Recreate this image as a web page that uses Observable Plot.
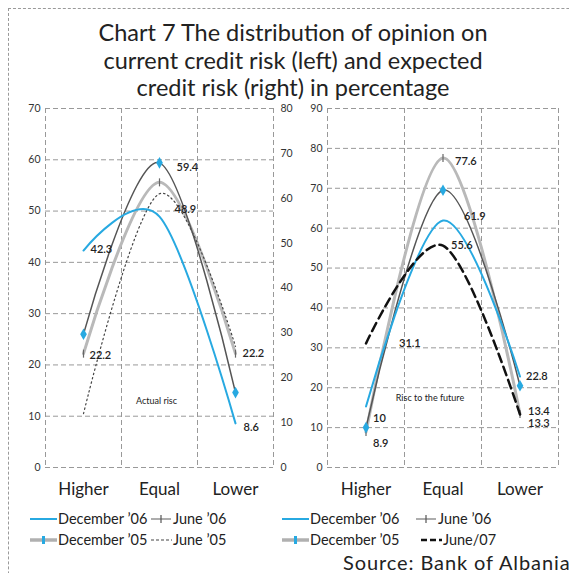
<!DOCTYPE html>
<html>
<head>
<meta charset="utf-8">
<script src="https://cdn.jsdelivr.net/npm/d3@7"></script>
<script src="https://cdn.jsdelivr.net/npm/@observablehq/plot@0.6"></script>
<style>
  html, body { margin: 0; padding: 0; background: #fff; width: 569px; height: 573px; overflow: hidden; }
  body { position: relative; font-family: Lato, "Open Sans", sans-serif; color: #222; }
  #frame { position: absolute; left: 8px; top: 8px; width: 700px; height: 700px;
           border-top: 1px dashed #9a9a9a; border-left: 1px dashed #9a9a9a; }
  #title { position: absolute; left: 0; top: 19px; width: 586px; text-align: center;
           font-size: 23.5px; line-height: 27.5px; color: #222; }
  .panel { position: absolute; top: 100px; }
  .panel svg { overflow: visible; }
  .leg { position: absolute; font-size: 14.5px; color: #222; white-space: nowrap; line-height: 18px; }
  .leg svg { position: absolute; top: 4px; }
  #source { position: absolute; left: 343px; top: 550px; font-size: 20px; letter-spacing: 0.9px; white-space: nowrap; }
</style>
</head>
<body>
<div id="frame"></div>
<div id="title">Chart 7 The distribution of opinion on<br>current credit risk (left) and expected<br>credit risk (right) in percentage</div>
<div id="left" class="panel" style="left:10px"></div>
<div id="right" class="panel" style="left:300px"></div>
<div id="legends"></div>
<div id="source">Source: Bank of Albania</div>
<script>
// Survey answers: is credit risk higher, equal or lower?
const categories = ["Higher", "Equal", "Lower"];

// Current credit risk (left panel), percent of banks
const curDec06 = [42.3, 48.9, 8.6];
const curJun06 = [22.2, 55.6, 22.2];
const curDec05 = [26.0, 59.4, 14.6];
const curJun05 = [12.0, 61.0, 27.0];   // plotted against the secondary 0–80 axis

// Expected credit risk (right panel), percent of banks
const expDec06 = [15.3, 61.9, 22.8];
const expJun06 = [8.9, 77.6, 13.4];
const expDec05 = [10.0, 69.5, 20.5];
const expJun07 = [31.1, 55.6, 13.3];

// Axis tick values
const leftTicks = [0, 10, 20, 30, 40, 50, 60, 70];
const secondaryTicks = [0, 10, 20, 30, 40, 50, 60, 70, 80];
const rightTicks = [0, 10, 20, 30, 40, 50, 60, 70, 80, 90];
const bandEdges = [0, 1, 2, 3];

const BLUE = "#27a9e1";
const secScale = 70 / 80; // secondary axis units -> primary axis units

const rows = (vals, k = 1) => vals.map((v, i) => ({x: i + 0.5, y: v * k, v, cat: categories[i]}));

// Vertical tick used as the June '06 point marker
const vbar = {draw(ctx, size) { const h = Math.sqrt(size / Math.PI); ctx.moveTo(0, -h); ctx.lineTo(0, h); }};

const gridStyle = {stroke: "#999", strokeDasharray: "5,3", strokeWidth: 1};
const styles = {
  dec06: {stroke: BLUE, strokeWidth: 2},
  jun06: {stroke: "#b9b9b9", strokeWidth: 3},
  dec05: {stroke: "#555", strokeWidth: 1.5},
  jun05: {stroke: "#444", strokeWidth: 1.2, strokeDasharray: "1.5,3"},
  jun07: {stroke: "#111", strokeWidth: 2.5, strokeDasharray: "9,5"}
};

function series(data, st) {
  return Plot.line(data, {x: "x", y: "y", curve: "cardinal", ...st});
}
function valueLabel(data, i, dx, dy) {
  return Plot.text([data[i]], {x: "x", y: "y", text: d => String(d.v), dx, dy,
    textAnchor: "start", fontSize: 11, fontWeight: 600, fill: "#222"});
}
function xAxis() {
  return Plot.axisX({ticks: [0.5, 1.5, 2.5], tickFormat: d => categories[Math.floor(d)],
    tickSize: 0, tickPadding: 15, fontSize: 17, fill: "#222", label: null});
}
function grid(yTicks) {
  return [
    Plot.ruleX(bandEdges, {x: d => d, ...gridStyle}),
    Plot.ruleY(yTicks, {y: d => d, ...gridStyle})
  ];
}
const baseStyle = {fontFamily: "Lato, 'Open Sans', sans-serif", fontSize: "10.5px", color: "#333", background: "transparent", overflow: "visible"};

// ---- Left panel: current credit risk ----
const lDec06 = rows(curDec06), lJun06 = rows(curJun06), lDec05 = rows(curDec05), lJun05 = rows(curJun05, secScale);
const leftPlot = Plot.plot({
  width: 290, height: 400, marginLeft: 35, marginRight: 27, marginTop: 8, marginBottom: 33,
  x: {domain: [0, 3]},
  y: {domain: [0, 70]},
  style: baseStyle,
  marks: [
    ...grid(leftTicks),
    Plot.axisY({ticks: leftTicks, tickSize: 0, tickPadding: 5, label: null, fill: "#333"}),
    Plot.axisY({anchor: "right", ticks: secondaryTicks.map(v => v * secScale),
      tickFormat: d => Math.round(d / secScale), tickSize: 0, tickPadding: 7, label: null, fill: "#333"}),
    xAxis(),
    series(lJun06, styles.jun06),
    Plot.dot(lJun06, {x: "x", y: "y", symbol: vbar, r: 4, stroke: "#666", strokeWidth: 1.2}),
    series(lJun05, styles.jun05),
    series(lDec05, styles.dec05),
    Plot.dot(lDec05, {x: "x", y: "y", symbol: "diamond", r: 3.5, fill: BLUE}),
    series(lDec06, styles.dec06),
    valueLabel(lDec05, 1, 17, 5),
    valueLabel(lDec06, 1, 15, -7),
    valueLabel(lDec06, 0, 7, -1),
    valueLabel(lJun06, 0, 6, 2),
    valueLabel(lJun06, 2, 7, 0),
    valueLabel(lDec06, 2, 8, 4),
    Plot.text(["Actual risc"], {frameAnchor: "bottom", dy: -64, dx: -3, fontSize: 9, fill: "#222"})
  ]
});
document.getElementById("left").append(leftPlot);

// ---- Right panel: expected credit risk ----
const rDec06 = rows(expDec06), rJun06 = rows(expJun06), rDec05 = rows(expDec05), rJun07 = rows(expJun07);
const rightPlot = Plot.plot({
  width: 269, height: 400, marginLeft: 27, marginRight: 11, marginTop: 8, marginBottom: 33,
  x: {domain: [0, 3]},
  y: {domain: [0, 90]},
  style: baseStyle,
  marks: [
    ...grid(rightTicks),
    Plot.axisY({ticks: rightTicks, tickSize: 0, tickPadding: 5, label: null, fill: "#333"}),
    xAxis(),
    series(rJun06, styles.jun06),
    Plot.dot(rJun06, {x: "x", y: "y", symbol: vbar, r: 4, stroke: "#666", strokeWidth: 1.2}),
    series(rDec05, styles.dec05),
    Plot.dot(rDec05, {x: "x", y: "y", symbol: "diamond", r: 3.5, fill: BLUE}),
    series(rDec06, styles.dec06),
    series(rJun07, styles.jun07),
    valueLabel(rJun06, 1, 12, 4),
    valueLabel(rDec06, 1, 21, -4),
    valueLabel(rJun07, 1, 8, 0),
    valueLabel(rJun07, 0, 33, 0),
    valueLabel(rDec05, 0, 7, -9),
    valueLabel(rJun06, 0, 7, 11),
    valueLabel(rDec06, 2, 6, 0),
    valueLabel(rJun06, 2, 8, -3),
    valueLabel(rJun07, 2, 8, 9),
    Plot.text(["Risc to the future"], {frameAnchor: "bottom", dy: -67, dx: -13, fontSize: 9, fill: "#222"})
  ]
});
document.getElementById("right").append(rightPlot);

// ---- Legends ----
function swatch(kind, w) {
  const y = 5;
  let inner = "";
  if (kind === "dec06") inner = `<line x1="0" x2="${w}" y1="${y}" y2="${y}" stroke="${BLUE}" stroke-width="2"/>`;
  if (kind === "jun06") inner = `<line x1="1" x2="${w - 1}" y1="${y}" y2="${y}" stroke="#777" stroke-width="1.2"/><line x1="${w / 2}" x2="${w / 2}" y1="${y - 4}" y2="${y + 4}" stroke="#555" stroke-width="1.2"/>`;
  if (kind === "dec05") inner = `<line x1="0" x2="${w}" y1="${y}" y2="${y}" stroke="#b0b0b0" stroke-width="3.5"/><rect x="${w / 2 - 1.5}" y="${y - 4}" width="3" height="8" fill="${BLUE}"/>`;
  if (kind === "jun05") inner = `<line x1="1" x2="${w}" y1="${y}" y2="${y}" stroke="#444" stroke-width="1.2" stroke-dasharray="3,2"/>`;
  if (kind === "jun07") inner = `<line x1="1" x2="${w}" y1="${y}" y2="${y}" stroke="#111" stroke-width="2.5" stroke-dasharray="6,3"/>`;
  return `<svg width="${w}" height="10">${inner}</svg>`;
}
const legendItems = [
  {kind: "dec06", text: "December ’06", x: 30, y: 510, w: 27},
  {kind: "jun06", text: "June ’06", x: 150, y: 510, w: 22},
  {kind: "dec05", text: "December ’05", x: 30, y: 531, w: 27},
  {kind: "jun05", text: "June ’05", x: 150, y: 531, w: 22},
  {kind: "dec06", text: "December ’06", x: 282, y: 510, w: 27},
  {kind: "jun06", text: "June ’06", x: 415, y: 510, w: 22},
  {kind: "dec05", text: "December ’05", x: 282, y: 531, w: 27},
  {kind: "jun07", text: "June/07", x: 420, y: 531, w: 22}
];
const legends = document.getElementById("legends");
for (const it of legendItems) {
  const div = document.createElement("div");
  div.className = "leg";
  div.style.left = it.x + "px";
  div.style.top = it.y + "px";
  div.innerHTML = swatch(it.kind, it.w) + `<span style="margin-left:${it.w + 1}px">${it.text}</span>`;
  legends.append(div);
}
</script>
</body>
</html>
